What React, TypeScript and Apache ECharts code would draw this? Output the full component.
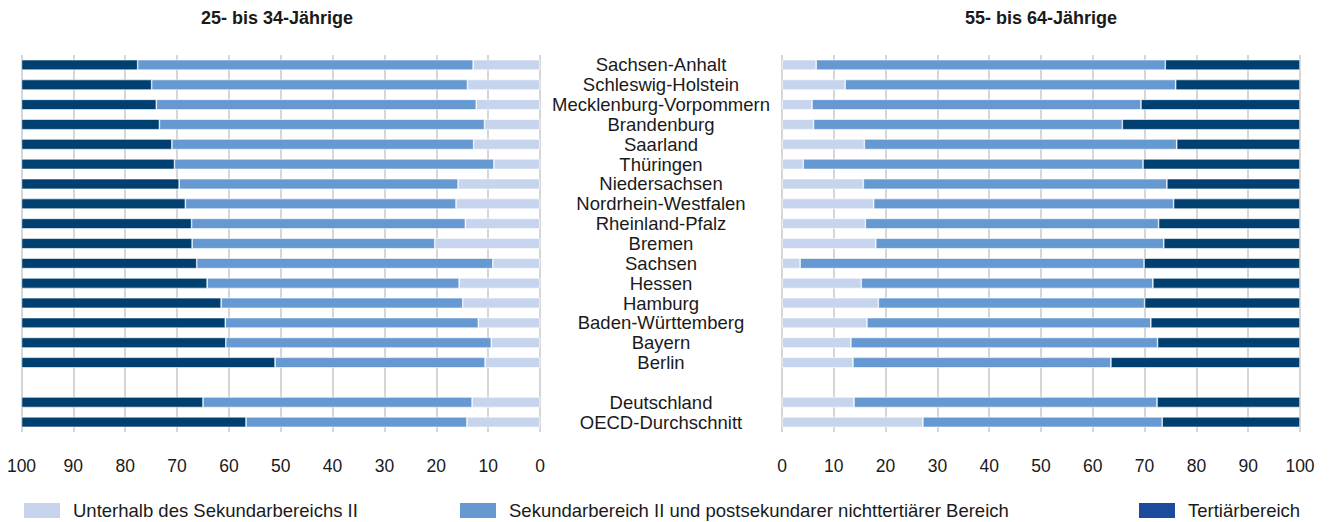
import React, { useEffect, useRef } from "react";
import * as echarts from "echarts";

const categories = [
  "Sachsen-Anhalt", "Schleswig-Holstein", "Mecklenburg-Vorpommern", "Brandenburg",
  "Saarland", "Thüringen", "Niedersachsen", "Nordrhein-Westfalen", "Rheinland-Pfalz",
  "Bremen", "Sachsen", "Hessen", "Hamburg", "Baden-Württemberg", "Bayern", "Berlin",
  "", "Deutschland", "OECD-Durchschnitt",
];

const seriesNames = [
  "Unterhalb des Sekundarbereichs II",
  "Sekundarbereich II und postsekundarer nichttertiärer Bereich",
  "Tertiärbereich",
];

// 25- bis 34-Jährige
const youngBelow = [12.9, 14.0, 12.3, 10.7, 12.8, 8.9, 15.8, 16.2, 14.4, 20.3, 9.1, 15.6, 14.9, 11.9, 9.4, 10.6, null, 13.1, 14.1];
const youngSecondary = [64.7, 60.9, 61.7, 62.7, 58.2, 61.6, 53.8, 52.2, 52.8, 46.8, 57.1, 48.6, 46.6, 48.8, 51.2, 40.5, null, 51.9, 42.6];
const youngTertiary = [22.4, 25.1, 26.0, 26.6, 29.0, 29.5, 30.4, 31.6, 32.8, 32.9, 33.8, 35.8, 38.5, 39.3, 39.4, 48.9, null, 35.0, 43.3];

// 55- bis 64-Jährige
const oldBelow = [6.6, 12.2, 5.8, 6.1, 15.9, 4.1, 15.7, 17.7, 16.1, 18.1, 3.5, 15.3, 18.6, 16.4, 13.3, 13.7, null, 13.9, 27.2];
const oldSecondary = [67.4, 63.8, 63.5, 59.6, 60.3, 65.6, 58.6, 57.9, 56.6, 55.6, 66.4, 56.3, 51.4, 54.8, 59.2, 49.8, null, 58.5, 46.2];
const oldTertiary = [26.0, 24.0, 30.7, 34.3, 23.8, 30.3, 25.7, 24.4, 27.3, 26.3, 30.1, 28.4, 30.0, 28.8, 27.5, 36.5, null, 27.6, 26.6];

const titles = ["25- bis 34-Jährige", "55- bis 64-Jährige"];

const barColors = ["#c6d4ee", "#6699d2", "#004070"];
const legendColors = ["#c6d4ee", "#6699d2", "#1c4a9c"];

const FONT = "'Liberation Sans', Arial, sans-serif";
const TEXT = "#1a1a1a";

export default function App() {
  const ref = useRef<HTMLDivElement>(null);

  useEffect(() => {
    if (!ref.current) return;
    const chart = echarts.init(ref.current, null, { renderer: "svg" });

    const xAxisCommon = {
      type: "value",
      min: 0,
      max: 100,
      interval: 10,
      axisLine: { show: false },
      axisTick: { show: false },
      splitLine: { show: true, lineStyle: { color: "#c8c8c8", width: 1.5 } },
      axisLabel: { color: TEXT, fontSize: 17.5, fontFamily: FONT, margin: 25 },
    };

    const mk = (name: string, data: (number | null)[], idx: number, color: string, stack: string) => ({
      type: "bar",
      name,
      data,
      stack,
      xAxisIndex: idx,
      yAxisIndex: idx,
      barWidth: 10.5,
      itemStyle: { color, borderColor: "#ffffff", borderWidth: 0.6 },
      emphasis: { disabled: true },
    });

    const legendItem = (i: number, left: number) => ({
      show: true,
      left,
      top: 501,
      padding: 0,
      itemWidth: 38,
      itemHeight: 17,
      itemGap: 10,
      icon: "rect",
      selectedMode: false,
      textStyle: { color: TEXT, fontSize: 18.5, fontFamily: FONT, padding: [0, 0, 0, 7] },
      data: [{ name: seriesNames[i], itemStyle: { color: legendColors[i] } }],
    });

    chart.setOption({
      animation: false,
      textStyle: { fontFamily: FONT },
      title: [
        {
          text: titles[0],
          left: 277,
          top: 9,
          padding: 0,
          textAlign: "center",
          textStyle: { fontSize: 18, fontWeight: "bold", color: TEXT, fontFamily: FONT },
        },
        {
          text: titles[1],
          left: 1041,
          top: 9,
          padding: 0,
          textAlign: "center",
          textStyle: { fontSize: 18, fontWeight: "bold", color: TEXT, fontFamily: FONT },
        },
      ],
      legend: [legendItem(0, 22), legendItem(1, 458), legendItem(2, 1137)],
      grid: [
        { left: 21.5, width: 518.5, top: 55, height: 377 },
        { left: 782, width: 518, top: 55, height: 377 },
      ],
      xAxis: [
        { ...xAxisCommon, gridIndex: 0, inverse: true },
        { ...xAxisCommon, gridIndex: 1 },
      ],
      yAxis: [
        {
          type: "category",
          gridIndex: 0,
          data: categories,
          inverse: true,
          axisLine: { show: false },
          axisTick: { show: false },
          axisLabel: { show: false },
        },
        {
          type: "category",
          gridIndex: 1,
          data: categories,
          inverse: true,
          axisLine: { show: false },
          axisTick: { show: false },
          axisLabel: {
            show: true,
            align: "center",
            margin: 121,
            color: TEXT,
            fontSize: 18.5,
            fontFamily: FONT,
            interval: 0,
          },
        },
      ],
      series: [
        mk(seriesNames[0], youngBelow, 0, barColors[0], "L"),
        mk(seriesNames[1], youngSecondary, 0, barColors[1], "L"),
        mk(seriesNames[2], youngTertiary, 0, barColors[2], "L"),
        mk(seriesNames[0], oldBelow, 1, barColors[0], "R"),
        mk(seriesNames[1], oldSecondary, 1, barColors[1], "R"),
        mk(seriesNames[2], oldTertiary, 1, barColors[2], "R"),
      ],
    });

    return () => chart.dispose();
  }, []);

  return (
    <div
      ref={ref}
      style={{ position: "fixed", left: 0, top: 0, width: 1330, height: 522, background: "#ffffff" }}
    />
  );
}
